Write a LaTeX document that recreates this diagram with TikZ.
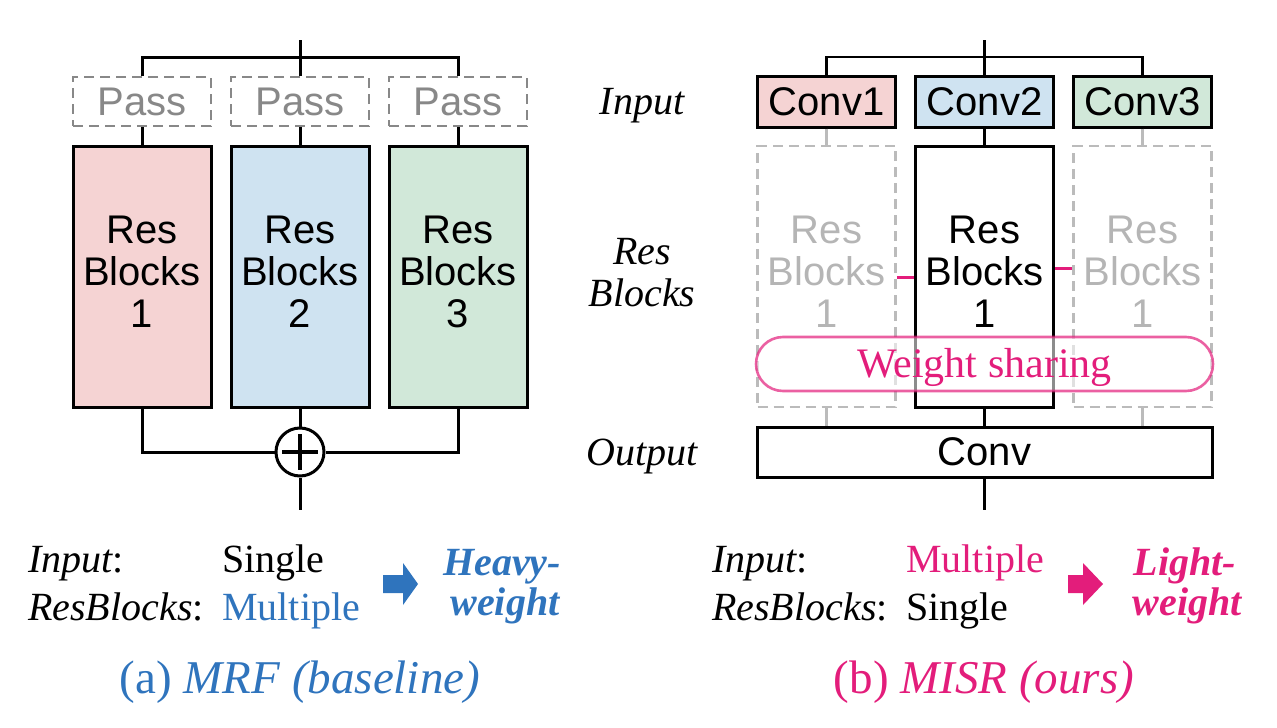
\documentclass[tikz,border=0pt]{standalone}
\usepackage{fontspec}
\setmainfont{Liberation Serif}
\setsansfont{Liberation Sans}
\usetikzlibrary{positioning}
\definecolor{rfill}{HTML}{F5D3D3}
\definecolor{bfill}{HTML}{CFE3F1}
\definecolor{gfill}{HTML}{D1E8D9}
\definecolor{passgray}{HTML}{888888}
\definecolor{ltgray}{HTML}{BBBBBB}
\definecolor{ltext}{HTML}{B5B5B5}
\definecolor{myblue}{HTML}{2F74BD}
\definecolor{mypink}{HTML}{E31D7B}
\newcommand{\dn}{\rule[-10pt]{0pt}{10pt}}
\tikzset{
  sf/.style={font=\sffamily\fontsize{40}{42}\selectfont},
  passbox/.style={sf, draw=passgray, text=passgray, dashed, dash pattern=on 10pt off 6pt, line width=2.6pt, minimum width=138pt, minimum height=49pt, inner sep=0pt},
  resbox/.style={sf, draw=black, line width=3pt, minimum width=138pt, minimum height=261pt, align=center, inner sep=0pt},
  ghostbox/.style={sf, draw=ltgray, text=ltext, dashed, dash pattern=on 10pt off 6pt, line width=2.6pt, minimum width=138pt, minimum height=261pt, align=center, inner sep=0pt},
  convbox/.style={sf, draw=black, line width=3pt, minimum width=138pt, minimum height=51pt, inner sep=0pt},
  wire/.style={line width=3pt, black},
  gwire/.style={line width=3pt, ltgray},
  pwire/.style={line width=3pt, mypink},
  sidelab/.style={font=\itshape\fontsize{40}{42}\selectfont, align=center, inner sep=0pt},
  btxt/.style={font=\fontsize{40}{48}\selectfont, anchor=base west, inner sep=0pt},
  boldtxt/.style={font=\bfseries\itshape\fontsize{40}{48}\selectfont, anchor=base, inner sep=0pt},
  captxt/.style={font=\fontsize{47}{50}\selectfont, anchor=base, inner sep=0pt},
}
\begin{document}
\begin{tikzpicture}[x=1pt,y=-1pt]
\path[use as bounding box] (0,0) rectangle (1277,728);

% ---------------- Left: MRF ----------------
\node[passbox] (p1) at (142,101.5) {Pass};
\node[passbox] (p2) at (300,101.5) {Pass};
\node[passbox] (p3) at (458,101.5) {Pass};
\node[resbox, fill=rfill] (r1) at (142,276.5) {Res\\Blocks\\1\dn};
\node[resbox, fill=bfill] (r2) at (300,276.5) {Res\\Blocks\\2\dn};
\node[resbox, fill=gfill] (r3) at (458,276.5) {Res\\Blocks\\3\dn};
\node[draw, circle, line width=3pt, minimum size=48pt, inner sep=0pt, fill=white] (sum) at (300,452) {};
\draw[line width=4pt] (sum.center) +(-18,0) -- +(18,0);
\draw[line width=4pt] (sum.center) +(0,-18) -- +(0,18);
\coordinate (inL) at (300,40);
\coordinate (busL) at (300,57);
\coordinate (outL) at (300,510);
\draw[wire] (inL) -- (p2.north);
\draw[wire] (p1.north) |- (busL) -| (p3.north);
\draw[wire] (p1.south) -- (r1.north);
\draw[wire] (p2.south) -- (r2.north);
\draw[wire] (p3.south) -- (r3.north);
\draw[wire] (r1.south) |- (sum.west);
\draw[wire] (r3.south) |- (sum.east);
\draw[wire] (r2.south) -- (sum.north);
\draw[wire] (sum.south) -- (outL);

% ---------------- Middle labels ----------------
\node[sidelab] (lin) at (642,106) {Input};
\node[sidelab] (lrb) at (642,273) {Res\\Blocks};
\node[sidelab] (lout) at (642,457) {Output};

% ---------------- Right: MISR ----------------
\node[convbox, fill=rfill] (c1) at (826.5,101.5) {Conv1};
\node[convbox, fill=bfill] (c2) at (984.5,101.5) {Conv2};
\node[convbox, fill=gfill] (c3) at (1142.5,101.5) {Conv3};
\node[ghostbox] (g1) at (826.5,276.5) {Res\\Blocks\\1\dn};
\node[resbox] (g2) at (984.5,276.5) {Res\\Blocks\\1\dn};
\node[ghostbox] (g3) at (1142.5,276.5) {Res\\Blocks\\1\dn};
\node[convbox, minimum width=455pt, minimum height=50pt] (oc) at (984.5,452) {Conv};
\coordinate (inR) at (984.5,40);
\coordinate (busR) at (984.5,57);
\coordinate (outR) at (984.5,510);
\draw[wire] (inR) -- (c2.north);
\draw[wire, line width=2.6pt] (c1.north) |- (busR) -| (c3.north);
\draw[gwire] (c1.south) -- (g1.north);
\draw[wire] (c2.south) -- (g2.north);
\draw[gwire] (c3.south) -- (g3.north);
\draw[gwire] (g1.south) -- (g1.south |- oc.north);
\draw[wire] (g2.south) -- (oc.north);
\draw[gwire] (g3.south) -- (g3.south |- oc.north);
\draw[wire] (oc.south) -- (outR);
\draw[pwire] ([yshift=-0.5pt]g1.east) -- ([yshift=-0.5pt]g2.west);
\draw[pwire] ([yshift=8.5pt]g2.east) -- ([yshift=8.5pt]g3.west);
\node[draw=mypink, draw opacity=0.7, fill=white, fill opacity=0.55, text opacity=1, text=mypink, line width=2.6pt, rounded corners=27pt, minimum width=457pt, minimum height=54pt, inner sep=0pt, font=\fontsize{42}{44}\selectfont] (ws) at (984.5,364) {\raisebox{-13pt}[0pt][0pt]{Weight sharing}};

% ---------------- Bottom texts left ----------------
\node[btxt] (a1) at (28,572) {\itshape Input\upshape:};
\node[btxt] (a2) at (222,572) {Single};
\node[btxt] (a3) at (28,620) {\itshape ResBlocks\upshape:};
\node[btxt, text=myblue] (a4) at (222,620) {Multiple};
\fill[myblue] (383,575) -- (403,575) -- (403,563) -- (418,584) -- (403,605) -- (403,593) -- (383,593) -- cycle;
\node[boldtxt, text=myblue] (a5) at (502,575) {Heavy-};
\node[boldtxt, text=myblue] (a6) at (505,615) {weight};
\node[captxt, text=myblue] (a7) at (300,693) {(a) \itshape MRF (baseline)};

% ---------------- Bottom texts right ----------------
\node[btxt] (b1) at (712,572) {\itshape Input\upshape:};
\node[btxt, text=mypink] (b2) at (906,572) {Multiple};
\node[btxt] (b3) at (712,620) {\itshape ResBlocks\upshape:};
\node[btxt] (b4) at (906,620) {Single};
\fill[mypink] (1068,575) -- (1083,575) -- (1083,563) -- (1103,584) -- (1083,605) -- (1083,593) -- (1068,593) -- cycle;
\node[boldtxt, text=mypink] (b5) at (1185,575) {Light-};
\node[boldtxt, text=mypink] (b6) at (1187,615) {weight};
\node[captxt, text=mypink] (b7) at (984,693) {(b) \itshape MISR (ours)};
\end{tikzpicture}
\end{document}
